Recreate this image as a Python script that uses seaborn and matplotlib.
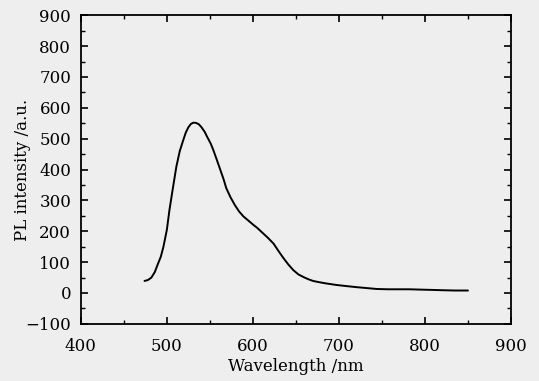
import numpy as np
import pandas as pd
import matplotlib
matplotlib.use("Agg")
import matplotlib.pyplot as plt
import seaborn as sns
from matplotlib.ticker import MultipleLocator

# PL spectrum
wavelength = [474, 478, 482, 486, 489, 493, 496, 500, 503, 507, 511, 515, 519,
              522, 525, 528, 531, 534, 537, 540, 544, 547, 551, 554, 558,
              562, 566, 569, 574, 579, 584, 589, 595, 600, 605, 610, 617,
              624, 630, 635, 641, 647, 653, 660, 665, 670, 677, 685, 690,
              697, 710, 720, 732, 744, 757, 770, 782, 794, 808, 820, 835, 850]
intensity = [39, 42, 50, 68, 90, 118, 150, 205, 269, 340, 409, 460, 495,
             520, 537, 548, 552, 551, 547, 538, 522, 505, 484, 463, 432,
             400, 368, 340, 310, 285, 264, 248, 234, 222, 211, 198, 180,
             160, 135, 115, 93, 74, 60, 50, 44, 39, 35, 31, 29,
             26, 22, 19, 16, 13, 12, 12, 12, 11, 10, 9, 8, 8]

df = pd.DataFrame({"Wavelength": wavelength, "PL": intensity})

sns.set_theme(style="ticks")
plt.rcParams['font.family'] = ['DejaVu Serif']

fig, ax = plt.subplots(figsize=(5.39, 3.81), dpi=100)
fig.patch.set_facecolor('#eeeeee')
ax.set_facecolor('#eeeeee')

sns.lineplot(x="Wavelength", y="PL", data=df, color='black', linewidth=1.4, ax=ax)

ax.set_xlim(400, 900)
ax.set_ylim(-100, 900)
ax.xaxis.set_major_locator(MultipleLocator(100))
ax.xaxis.set_minor_locator(MultipleLocator(50))
ax.yaxis.set_major_locator(MultipleLocator(100))
ax.yaxis.set_minor_locator(MultipleLocator(50))
ax.tick_params(which='both', direction='in', top=True, right=True,
               labelsize=12, color='black', labelcolor='black')
ax.tick_params(which='major', length=5, width=1.2)
ax.tick_params(which='minor', length=3, width=1)
ax.tick_params(axis='x', which='major', pad=10)
ax.tick_params(axis='y', which='major', pad=7)
for sp in ax.spines.values():
    sp.set_color('black')
    sp.set_linewidth(1.3)

ax.set_xlabel('Wavelength /nm', fontsize=12, color='black', labelpad=2)
ax.set_ylabel('PL intensity /a.u.', fontsize=12, color='black')
ax.yaxis.set_label_coords(-0.115, 0.5)

fig.subplots_adjust(left=0.15, right=0.948, top=0.96, bottom=0.15)
fig.savefig('out.png', dpi=100, facecolor=fig.get_facecolor())
